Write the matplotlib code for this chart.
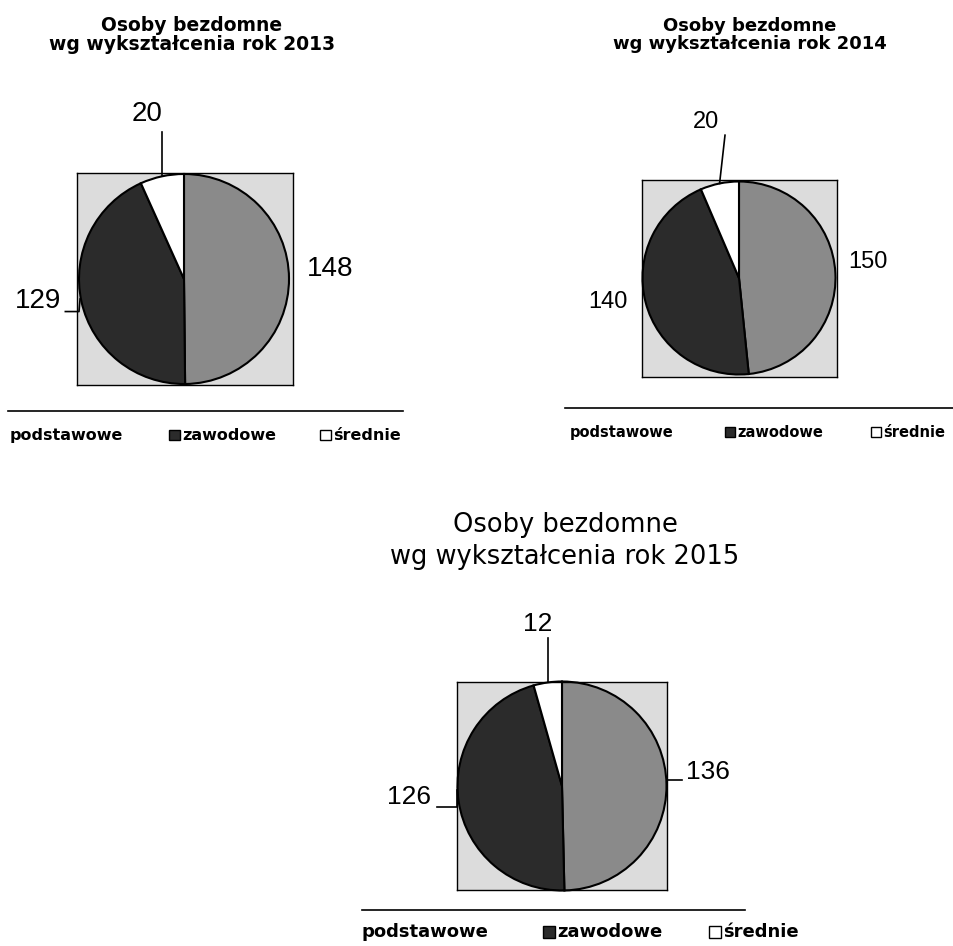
import numpy as np
import matplotlib.pyplot as plt
from matplotlib.patches import Rectangle
from matplotlib.lines import Line2D

# dane
categories = ['podstawowe', 'zawodowe', 'średnie']
years = [2013, 2014, 2015]
values_2013 = [148, 129, 20]
values_2014 = [150, 140, 20]
values_2015 = [136, 126, 12]

colors = ['#8a8a8a', '#2b2b2b', 'white']
bg = '#dcdcdc'

W, H = 954, 946
fig = plt.figure(figsize=(W / 100, H / 100), dpi=100)


def fx(x):
    return x / W


def fy(y):
    return 1 - y / H


def mid_point(vals, i):
    # srodek klina na obwodzie, zgodnie z ruchem wskazowek od gory
    tot = float(sum(vals))
    start = sum(vals[:i]) / tot * 360
    ang = np.radians(start + vals[i] / tot * 180)
    return np.sin(ang), np.cos(ang)


def draw_pie(vals, cx, cy, r, box, label_xy, fsize):
    x0, y0, x1, y1 = box
    ax = fig.add_axes([fx(x0), fy(y1), (x1 - x0) / W, (y1 - y0) / H])
    ax.pie(vals, colors=colors, startangle=90, counterclock=False,
           wedgeprops={"linewidth": 1.5, "edgecolor": "black"})
    ax.set_aspect('auto')
    ax.set_xlim((x0 - cx) / r, (x1 - cx) / r)
    ax.set_ylim((cy - y1) / r, (cy - y0) / r)
    ax.set_facecolor(bg)
    ax.set_frame_on(True)
    for s in ax.spines.values():
        s.set_linewidth(1.0)
        s.set_color('black')
    ax.set_xticks([]), ax.set_yticks([])
    for v, (tx, ty) in zip(vals, label_xy):
        ax.text(tx, ty, str(v), ha='center', va='center', fontsize=fsize,
                family='Liberation Sans', clip_on=False)
    return ax


def leader(ax, xs, ys):
    ax.add_line(Line2D(xs, ys, color='black', lw=1.2, clip_on=False))


def legend_row(y_line, xl0, xl1, y_text, xs, fsize):
    fig.add_artist(Line2D([fx(xl0), fx(xl1)], [fy(y_line), fy(y_line)],
                          color='black', lw=1.2, transform=fig.transFigure))
    mk = fsize * 0.95
    for i, (cat, x) in enumerate(zip(categories, xs)):
        if i > 0:
            fig.add_artist(Rectangle((fx(x - mk - 2), fy(y_text + mk / 2)),
                                     mk / W, mk / H, facecolor=colors[i],
                                     edgecolor='black', lw=1,
                                     transform=fig.transFigure))
        fig.text(fx(x), fy(y_text), cat, ha='left', va='center',
                 fontsize=fsize, fontweight='bold', family='DejaVu Sans')


# 2013
ax1 = draw_pie(values_2013, 184, 279, 105, (77, 173, 293, 385),
               [(1.39, 0.10), (-1.39, -0.21), (-0.35, 1.57)], 20)
mx, my = mid_point(values_2013, 2)
leader(ax1, [mx, mx], [my, 1.40])
leader(ax1, [-1.13, -1.0, -0.99], [-0.31, -0.31, -0.19])
fig.text(fx(192), fy(35), 'Osoby bezdomne\nwg wykształcenia rok 2013',
         ha='center', va='center', fontsize=13.5, fontweight='bold',
         family='DejaVu Sans', linespacing=1.05)
legend_row(411, 8, 403, 435, [10, 182, 333], 11.5)

# 2014
ax2 = draw_pie(values_2014, 739, 278, 96.5, (642, 180, 837, 377),
               [(1.34, 0.17), (-1.36, -0.25), (-0.34, 1.62)], 17)
mx, my = mid_point(values_2014, 2)
leader(ax2, [mx, -0.145], [my, 1.48])
fig.text(fx(750), fy(35), 'Osoby bezdomne\nwg wykształcenia rok 2014',
         ha='center', va='center', fontsize=13, fontweight='bold',
         family='DejaVu Sans', linespacing=1.05)
legend_row(408, 565, 954, 432, [570, 737, 883], 10.5)

# 2015
ax3 = draw_pie(values_2015, 562, 786, 104.5, (457, 682, 667, 890),
               [(1.40, 0.13), (-1.46, -0.11), (-0.23, 1.55)], 19)
mx, my = mid_point(values_2015, 2)
leader(ax3, [mx, mx], [my, 1.42])
leader(ax3, [-1.20, -1.0, -1.0], [-0.20, -0.20, -0.04])
leader(ax3, [1.0, 1.15], [0.06, 0.06])
fig.text(fx(565), fy(541), 'Osoby bezdomne\nwg wykształcenia rok 2015',
         ha='center', va='center', fontsize=18.5, family='DejaVu Sans',
         linespacing=1.3)
legend_row(910, 362, 745, 932, [362, 557, 723], 13)

fig.savefig('out.png', dpi=100, facecolor='white')
